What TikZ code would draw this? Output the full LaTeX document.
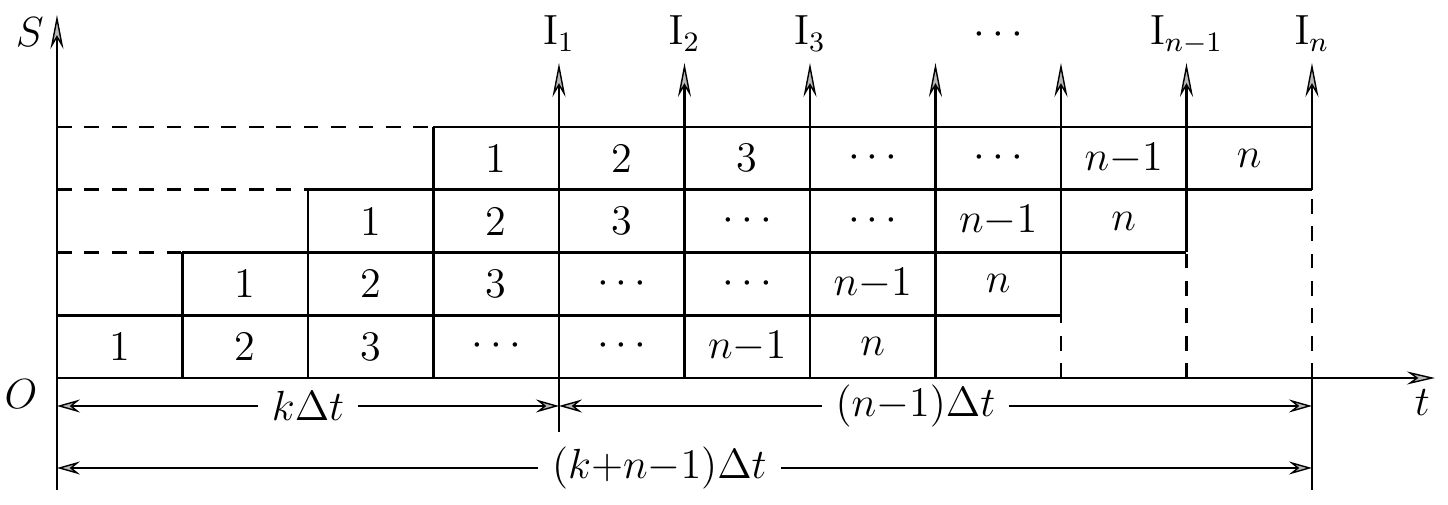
\documentclass[tikz,border=0pt]{standalone}
\usetikzlibrary{arrows.meta}

\begin{document}
\begin{tikzpicture}[x=1.255cm,y=0.6275cm,
  every node/.style={font=\fontsize{12}{14}\selectfont},
  cell/.style={line width=0.8pt},
  hidden/.style={line width=0.8pt,dash pattern=on 4.2pt off 3.6pt},
  outarrow/.style={line width=0.8pt,-{Stealth[length=3.4mm,width=1.3mm,inset=1.1mm,line width=0.4pt,fill=gray!55]}},
  dimline/.style={line width=0.8pt,
    {Stealth[length=2.3mm,width=1.3mm,inset=0.8mm,line width=0.4pt,fill=gray!55]}-{Stealth[length=2.3mm,width=1.3mm,inset=0.8mm,line width=0.4pt,fill=gray!55]}},
  dimlabel/.style={fill=white,inner xsep=4pt,inner ysep=1pt}]
\useasboundingbox (-0.454,-2.024) rectangle (11.084,6.024);
% axes
\coordinate (O) at (0,0);
\coordinate (Sbot) at (0,-1.785);
\coordinate (Stop) at (0,5.785);
\coordinate (Tend) at (10.98,0);
\draw[outarrow] (Sbot) -- (Stop);
\draw[line width=0.8pt,-{Stealth[length=2.8mm,width=1.3mm,inset=0.9mm,line width=0.4pt,fill=gray!55]}] (O) -- (Tend);
\node[anchor=base east,inner sep=0pt] (S) at (-0.1,5.275) {$S$};
\node[anchor=north east,inner sep=0pt] (Olab) at (-0.15,-0.01) {$O$};
\node[anchor=base,inner sep=0pt] (t) at (10.88,-0.59) {$t$};
% staircase of tasks
\foreach \j in {0,...,3}
  \foreach \lab [count=\i from 0] in {1,2,3,$\cdots$,$\cdots$,$n{-}1$,$n$}
    \node (c\j\i) at (\j+\i+0.5,\j+0.5) {\lab};
\draw[cell] (0,1) -- (8,1);
\draw[hidden] (0,2) -- (1,2);
\draw[cell] (1,2) -- (9,2);
\draw[hidden] (0,3) -- (2,3);
\draw[cell] (2,3) -- (10,3);
\draw[hidden] (0,4) -- (3,4);
\draw[cell] (3,4) -- (10,4);
\foreach \x in {1,2,3} \draw[cell] (\x,0) -- (\x,\x+1);
% outputs I_1 ... I_n
\foreach \x/\y in {4/-0.86,5/0,6/0,7/0,8/1,9/2,10/3} {
  \coordinate (b\x) at (\x,\y);
  \coordinate (I\x) at (\x,5.02);
  \draw[outarrow] (b\x) -- (I\x);
}
\foreach \x in {8,9,10} \draw[hidden] (\x,0) -- (b\x);
\draw[cell] (10,-1.785) -- (10,0);
\foreach \x/\lab in {4/1,5/2,6/3,9/n{-}1,10/n}
  \node[anchor=base] (L\x) at (\x,5.307) {$\mathrm{I}_{\lab}$};
\node[anchor=base] (Ldots) at (7.5,5.307) {$\cdots$};
% time spans
\coordinate (d1l) at (0,-0.446);
\coordinate (d1m) at (4,-0.446);
\coordinate (d1r) at (10,-0.446);
\coordinate (d2l) at (0,-1.434);
\coordinate (d2r) at (10,-1.434);
\draw[dimline] (d1l) -- (d1m);
\draw[dimline] (d1m) -- (d1r);
\draw[dimline] (d2l) -- (d2r);
\node[dimlabel] (kdt) at (2,-0.446) {$k\Delta t$};
\node[dimlabel] (ndt) at (6.84,-0.446) {$(n{-}1)\Delta t$};
\node[dimlabel] (kndt) at (4.8,-1.434) {$(k{+}n{-}1)\Delta t$};
\end{tikzpicture}
\end{document}
